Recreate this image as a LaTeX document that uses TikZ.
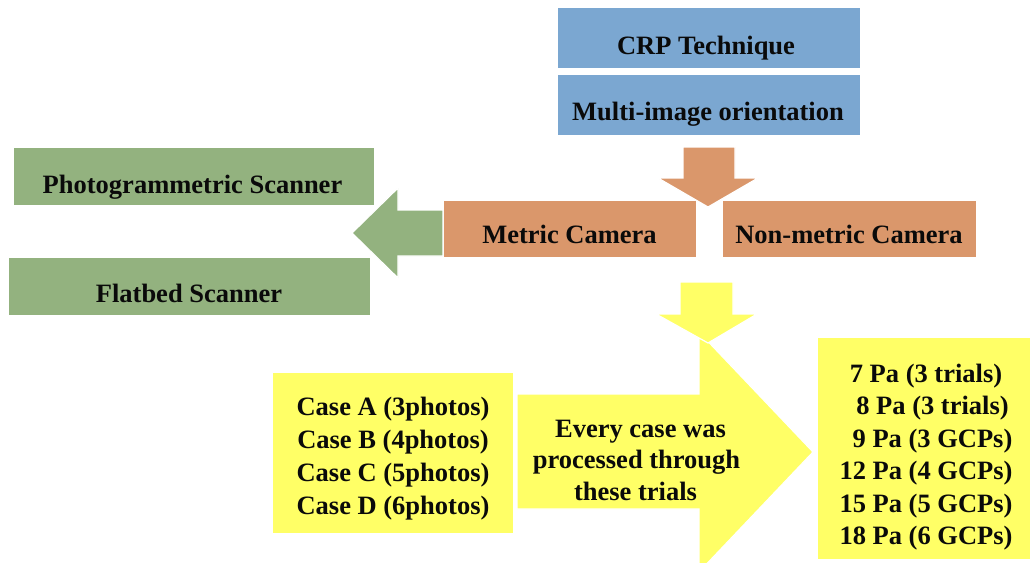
\documentclass[tikz,border=0pt]{standalone}
\usepackage{fontspec}
\setmainfont{Liberation Serif}
\definecolor{cblue}{HTML}{7BA7D1}
\definecolor{corange}{HTML}{DA976B}
\definecolor{cgreen}{HTML}{93B27F}
\definecolor{cyellow}{HTML}{FFFF66}
\definecolor{ctext}{HTML}{0A0A0A}
\begin{document}
\begin{tikzpicture}[x=1pt,y=-1pt,
  boxshape/.style={rectangle,draw=white,line width=0.8pt,inner sep=0pt,outer sep=0pt},
  blockarrow/.style={draw=white,line width=1.2pt,line join=miter},
  lbl/.style={font=\bfseries\fontsize{26.5}{32.5}\selectfont,anchor=base,inner sep=0pt,text=ctext}]
\useasboundingbox (0,0) rectangle (1033,562);
\clip (0,0) rectangle (1033,562);

% boxes
\node[boxshape,fill=cblue,minimum width=303pt,minimum height=61pt] (crp) at (708.5,37.5) {};
\node[boxshape,fill=cblue,minimum width=303pt,minimum height=61pt] (multi) at (708.5,104.5) {};
\node[boxshape,fill=corange,minimum width=253pt,minimum height=57pt] (metric) at (569.5,228.5) {};
\node[boxshape,fill=corange,minimum width=254pt,minimum height=57pt] (nonmetric) at (849,228.5) {};
\node[boxshape,fill=cgreen,minimum width=361pt,minimum height=58pt] (photo) at (193.5,176) {};
\node[boxshape,fill=cgreen,minimum width=362pt,minimum height=58pt] (flatbed) at (189,286) {};
\node[boxshape,fill=cyellow,minimum width=241pt,minimum height=161pt] (cases) at (392.5,452.5) {};
\node[boxshape,fill=cyellow,minimum width=213pt,minimum height=222pt] (pa) at (923.5,448) {};

% block arrows
\fill[blockarrow,fill=cyellow] (517,394) -- (699,394) -- (699,332) -- (813,452) -- (699,572) -- (699,509) -- (517,509) -- cycle;
\filldraw[blockarrow,fill=corange] (683,147) -- (735,147) -- (735,178) -- (758,178) -- (708,207) -- (658,178) -- (683,178) -- cycle;
\filldraw[blockarrow,fill=cgreen] (443,210) -- (398,210) -- (398,188) -- (352,233) -- (398,278) -- (398,256) -- (443,256) -- cycle;
\filldraw[blockarrow,fill=cyellow] (680,282) -- (733,282) -- (733,314) -- (757,314) -- (708,343) -- (656,314) -- (680,314) -- cycle;

% labels
\node[lbl] (tcrp) at (706,54) {CRP Technique};
\node[lbl] (tmulti) at (708,120) {Multi-image orientation};
\node[lbl] (tmetric) at (569.5,243) {Metric Camera};
\node[lbl] (tnonmetric) at (849,243) {Non-metric Camera};
\node[lbl] (tphoto) at (192.5,193) {Photogrammetric Scanner};
\node[lbl] (tflatbed) at (189,302) {Flatbed Scanner};
\node[lbl] (ca) at (393,415) {Case A (3photos)};
\node[lbl] (cb) at (393,448) {Case B (4photos)};
\node[lbl] (cc) at (393,481) {Case C (5photos)};
\node[lbl] (cd) at (393,514) {Case D (6photos)};
\node[lbl] (e1) at (640.5,437) {Every case was};
\node[lbl] (e2) at (636.5,468.5) {processed through};
\node[lbl] (e3) at (635.5,500) {these trials};
\node[lbl] (p1) at (926,382) {7 Pa (3 trials)};
\node[lbl] (p2) at (932.5,414) {8 Pa (3 trials)};
\node[lbl] (p3) at (932.5,447) {9 Pa (3 GCPs)};
\node[lbl] (p4) at (926,479) {12 Pa (4 GCPs)};
\node[lbl] (p5) at (926,512) {15 Pa (5 GCPs)};
\node[lbl] (p6) at (926,544) {18 Pa (6 GCPs)};
\end{tikzpicture}
\end{document}
